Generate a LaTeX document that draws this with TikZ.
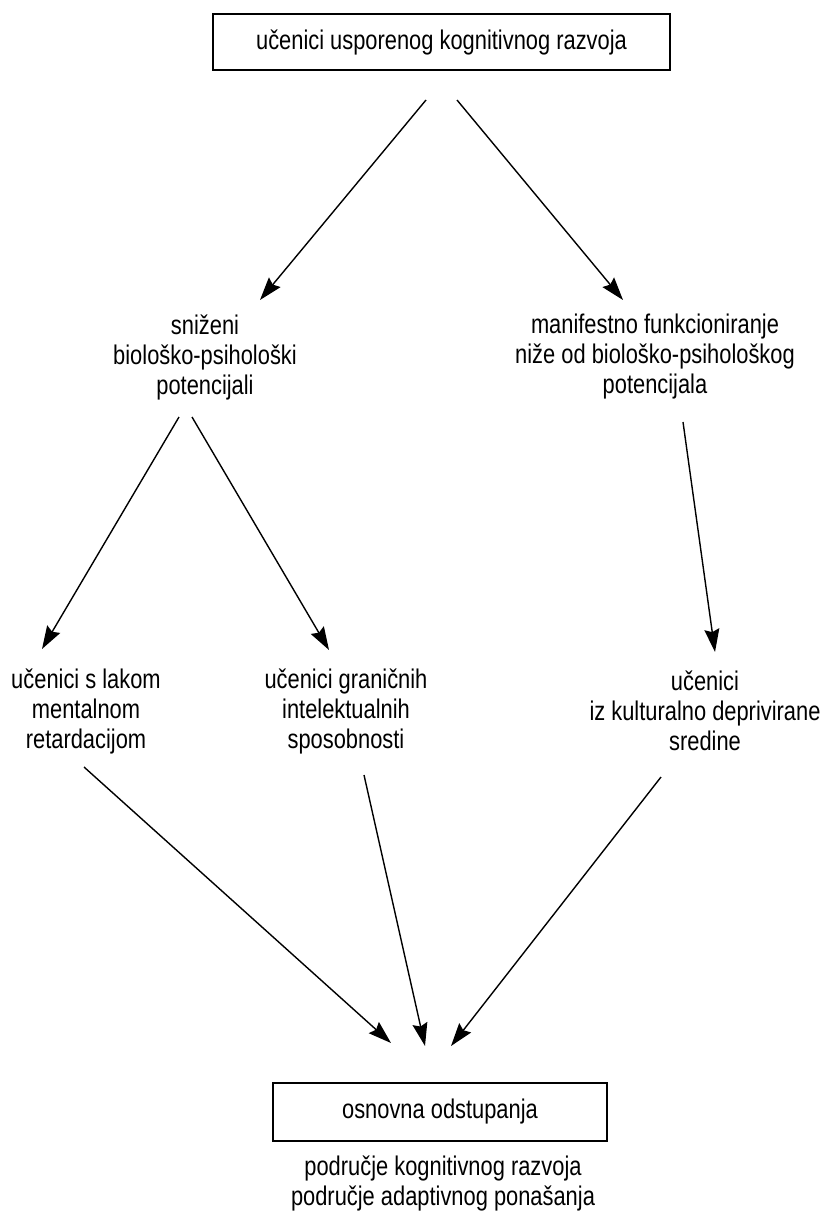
\documentclass[tikz,border=0pt]{standalone}
\usepackage{fontspec}
\setmainfont{Liberation Sans}[FakeStretch=0.81]
\usetikzlibrary{arrows.meta}
\begin{document}
\begin{tikzpicture}[x=1pt,y=-1pt,
  txt/.style={align=center, inner sep=0pt, font=\fontsize{27}{30}\selectfont},
  boxnode/.style={draw, line width=1.7pt, inner sep=0pt, font=\fontsize{27}{30}\selectfont},
  arr/.style={-{Stealth[length=23pt,width=15pt,inset=3pt]}, line width=1.4pt}]
\useasboundingbox (0,0) rectangle (824,1213);

\node[boxnode, minimum width=457pt, minimum height=56pt] (top) at (441.5,42) {učenici usporenog kognitivnog razvoja};

\node[txt] (sniz) at (205,357) {sniženi\\biološko-psihološki\\potencijali};
\node[txt] (manif) at (655,357) {manifestno funkcioniranje\\niže od biološko-psihološkog\\potencijala};

\node[txt] (laka) at (86,711) {učenici s lakom\\mentalnom\\retardacijom};
\node[txt] (gran) at (346,711) {učenici graničnih\\intelektualnih\\sposobnosti};
\node[txt] (kult) at (705,711) {učenici\\iz kulturalno deprivirane\\sredine};

\node[boxnode, minimum width=334pt, minimum height=58pt] (osn) at (440,1112) {osnovna odstupanja};
\node[txt] (podr) at (443,1183) {područje kognitivnog razvoja\\područje adaptivnog ponašanja};

% connector end points
\coordinate (t1) at (426,100);
\coordinate (t2) at (457,100);
\coordinate (s1in) at (260,300);
\coordinate (m1in) at (623,300);
\coordinate (s1) at (179,417);
\coordinate (s2) at (192,417);
\coordinate (m1) at (683,422);
\coordinate (lin) at (42,649);
\coordinate (gin) at (329,650);
\coordinate (kin) at (715,652);
\coordinate (lout) at (84,767);
\coordinate (gout) at (364,775);
\coordinate (kout) at (661,777);
\coordinate (o1) at (391,1043);
\coordinate (o2) at (425,1046);
\coordinate (o3) at (451,1046);

\draw[arr] (t1) -- (s1in);
\draw[arr] (t2) -- (m1in);
\draw[arr] (s1) -- (lin);
\draw[arr] (s2) -- (gin);
\draw[arr] (m1) -- (kin);
\draw[arr] (lout) -- (o1);
\draw[arr] (gout) -- (o2);
\draw[arr] (kout) -- (o3);
\end{tikzpicture}
\end{document}
